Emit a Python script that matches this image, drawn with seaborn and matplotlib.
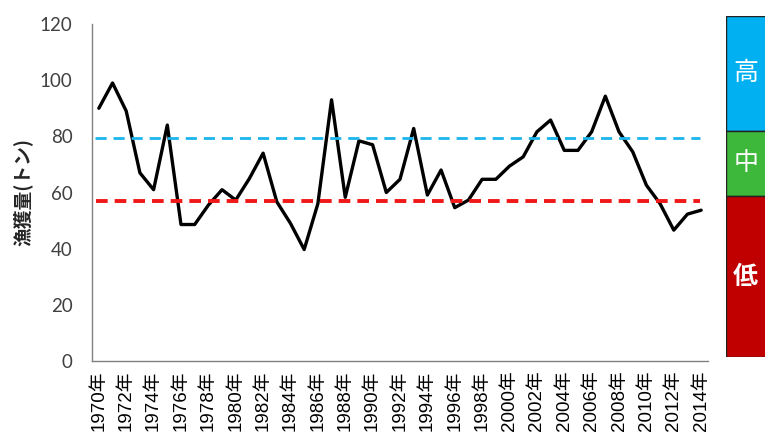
import numpy as np
import pandas as pd
import seaborn as sns
import matplotlib.pyplot as plt
from matplotlib.patches import Rectangle
from matplotlib.ticker import MultipleLocator

# 漁獲量 (トン), 1970-2014
years = list(range(1970, 2015))
catch = [90, 99, 89, 67, 61, 84, 48.6, 48.6, 55.5, 61, 57.3,
         65, 74, 56.7, 49, 39.7, 56, 93, 58.3, 78.4, 77,
         60, 64.7, 82.8, 59.1, 68, 54.6, 57.3, 64.7, 64.7, 69.4,
         72.7, 81.6, 85.8, 75, 75, 81.6, 94.3, 81.6, 74.5, 62.6,
         56, 46.6, 52.3, 53.7]
high_line = 79.3
low_line = 57
yticks = [0, 20, 40, 60, 80, 100, 120]
levels = ['高', '中', '低']
level_colors = ['#00B0F0', '#3DB83A', '#C00000']
level_bounds = [1.0, 0.663, 0.472, 0.0]   # fraction of the side bar

sns.set_style('white')
plt.rcParams['font.family'] = ['Liberation Sans', 'Noto Sans CJK JP', 'DejaVu Sans']

df = pd.DataFrame({'year': years, 'catch': catch})

fig = plt.figure(figsize=(7.65, 4.36), dpi=100)
ax = fig.add_axes([92 / 765, 75 / 436, 616 / 765, 337 / 436])

sns.lineplot(data=df, x='year', y='catch', color='black', linewidth=2.4, ax=ax)
ax.hlines(high_line, years[0] - 0.3, years[-1] - 0.1, colors='#1BB4EC',
          linewidth=2.0, linestyles=(0, (4, 2.5)))
ax.hlines(low_line, years[0] - 0.2, years[-1] - 0.1, colors='#F01818',
          linewidth=2.8, linestyles=(0, (3, 1.8)))

ax.set_xlim(years[0] - 0.5, years[-1] + 0.5)
ax.set_ylim(0, 120)
ax.set_yticks(yticks)
ax.set_xticks(years[::2])
ax.set_xticklabels([f'{y}年' for y in years[::2]], rotation=90, fontsize=13.5,
                   color='black')
ax.xaxis.set_minor_locator(MultipleLocator(1, offset=0.5))
ax.tick_params(axis='x', which='major', length=0, pad=7)
ax.tick_params(axis='x', which='minor', length=4, width=1, color='#808080',
               direction='inout')
ax.tick_params(axis='y', length=5, width=1, color='#808080', pad=9,
               labelsize=13.5, labelcolor='#404040')
for lab in ax.get_yticklabels():
    lab.set_family(['Lato', 'DejaVu Sans'])

for side in ['top', 'right']:
    ax.spines[side].set_visible(False)
for side in ['left', 'bottom']:
    ax.spines[side].set_color('#808080')
    ax.spines[side].set_linewidth(1)

ax.set_xlabel('')
ax.set_ylabel('漁獲量(トン)', fontsize=13.5, fontweight='bold',
              family=['Noto Sans CJK JP', 'DejaVu Sans'])
ax.yaxis.set_label_coords(-0.097, 0.5)

# side bar with the level categories
bar = fig.add_axes([726 / 765, 79 / 436, 42 / 765, 341 / 436])
bar.set_xlim(0, 1)
bar.set_ylim(0, 1)
for i, (name, col) in enumerate(zip(levels, level_colors)):
    top, bottom = level_bounds[i], level_bounds[i + 1]
    bar.add_patch(Rectangle((0, bottom), 1, top - bottom, facecolor=col,
                            edgecolor='#222222', linewidth=1))
    bar.text(0.47, (top + bottom) / 2, name, ha='center', va='center',
             color='white', fontsize=18,
             fontweight='bold' if name == '低' else 'normal',
             family=['Noto Sans CJK JP', 'DejaVu Sans'])
bar.axis('off')

fig.savefig('out.png', dpi=100)
